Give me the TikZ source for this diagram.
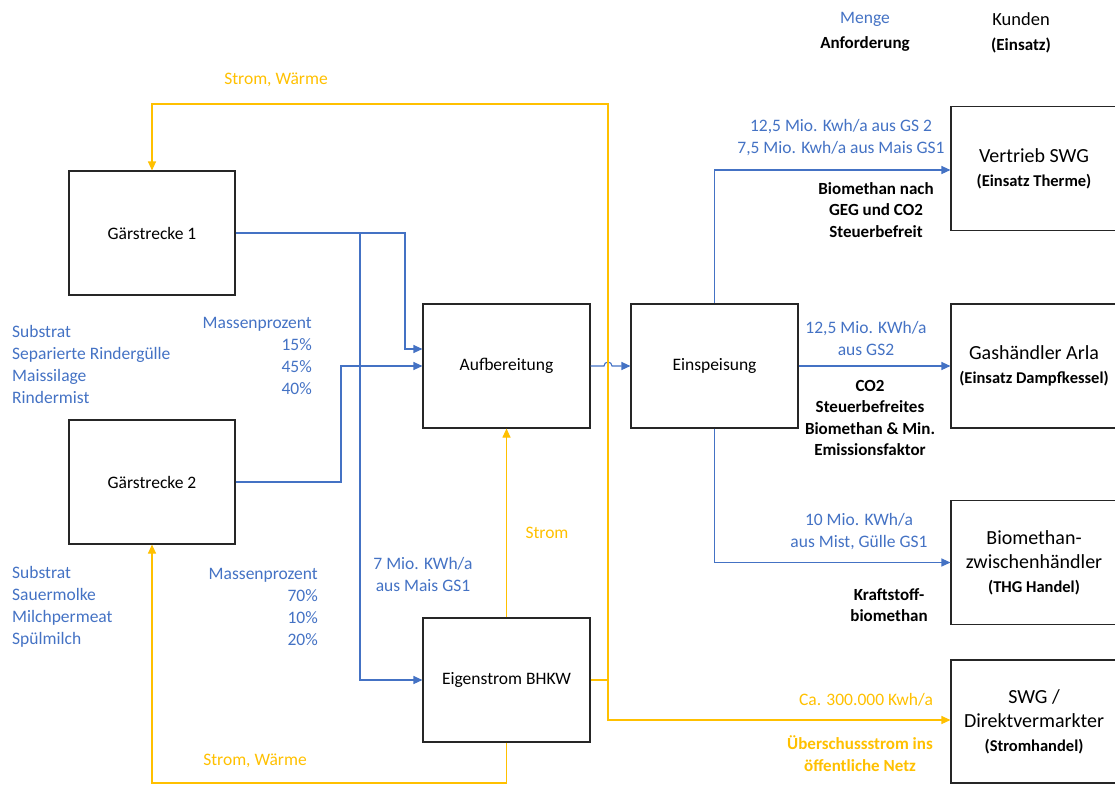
\documentclass[tikz,border=0pt]{standalone}
\usepackage{fontspec}
\setmainfont{Carlito}
\usetikzlibrary{arrows.meta, positioning, calc}
\definecolor{flowblue}{HTML}{4472C4}
\definecolor{flowgold}{HTML}{FFC000}

\begin{document}
\begin{tikzpicture}[
            x=1pt, y=-1pt,
            every node/.style={font=\fontsize{17.5}{22}\selectfont},
            box/.style={rectangle, draw=black!85, line width=1.1pt, minimum width=166pt, minimum height=124pt, align=center},
            kunde/.style={box, font=\fontsize{20}{24}\selectfont},
            note/.style={align=center, inner sep=0pt},
            bold/.style={font=\fontsize{17}{21.5}\selectfont\bfseries},
            bluearrow/.style={-{Triangle[length=9pt,width=8pt]}, draw=flowblue, line width=1.1pt},
            goldarrow/.style={-{Triangle[length=9pt,width=8pt]}, draw=flowgold, line width=1.1pt}
        ]
            \path[use as bounding box, clip] (0,0) rectangle (1115,785);

% Fermentation lines
            \node[box] (g1) at (152,233) {Gärstrecke 1};
            \node[box] (g2) at (152,482) {Gärstrecke 2};

% Processing
            \node[box, minimum width=167pt] (auf) at (506.5,366) {Aufbereitung};
            \node[box, minimum width=167pt] (ein) at (714.5,366) {Einspeisung};
            \node[box, minimum width=167pt] (bhkw) at (506.5,680) {Eigenstrom BHKW};

% Customers (cut at the right edge)
            \node[kunde] (vert) at (1034,168.5) {Vertrieb SWG\\{\fontsize{16.5}{20}\selectfont\bfseries (Einsatz Therme)}};
            \node[kunde] (gas) at (1034,366) {Gashändler Arla\\{\fontsize{16.5}{20}\selectfont\bfseries (Einsatz Dampfkessel)}};
            \node[kunde] (zwi) at (1034,562.5) {Biomethan-\\zwischenhändler\\{\fontsize{16.5}{20}\selectfont\bfseries (THG Handel)}};
            \node[kunde, minimum height=123pt] (swg) at (1034,721.5) {SWG /\\Direktvermarkter\\{\fontsize{16.5}{20}\selectfont\bfseries (Stromhandel)}};

% Header
            \node[note, text=flowblue] (menge) at (865,19) {Menge};
            \node[note, bold] (anf) at (865,44) {Anforderung};
            \node[note, font=\fontsize{18.5}{22}\selectfont] (kunden) at (1021,19) {Kunden};
            \node[note, bold] (eins) at (1021,45) {(Einsatz)};

% Substrates
            \node[note, anchor=west, align=left, text=flowblue] (sub1) at (12,364) {Substrat\\Separierte Rindergülle\\Maissilage\\Rindermist};
            \node[note, anchor=east, align=right, text=flowblue] (mp1) at (312,355.5) {Massenprozent\\15\%\\45\%\\40\%};
            \node[note, anchor=west, align=left, text=flowblue] (sub2) at (12,606.5) {Substrat\\Sauermolke\\Milchpermeat\\Spülmilch};
            \node[note, anchor=east, align=right, text=flowblue] (mp2) at (318,606.5) {Massenprozent\\70\%\\10\%\\20\%};

% Gas flows
            \coordinate (split) at (360,233);
            \draw[bluearrow] (g1.east) -| (405,349) -- ([yshift=17pt]auf.west);
            \draw[bluearrow] (split) |- (bhkw.west);
            \draw[bluearrow] (g2.east) -| (341,366) -- (auf.west);
            \draw[bluearrow] (auf.east) -- (604,366) arc (180:360:4) -- (ein.west);
            \draw[bluearrow] (ein.north) |- ([yshift=-1.5pt]vert.west);
            \draw[bluearrow] (ein.east) -- (gas.west);
            \draw[bluearrow] (ein.south) |- (zwi.west);

% Power and heat
            \draw[goldarrow] (bhkw.north) -- (auf.south);
            \draw[goldarrow] (bhkw.east) -| (608,104) -| (g1.north);
            \draw[goldarrow] (608,680) |- ([yshift=1.5pt]swg.west);
            \draw[goldarrow] (bhkw.south) |- (152,783) -- (g2.south);

% Flow labels
            \node[note, text=flowgold] (sw1) at (276,80) {Strom, Wärme};
            \node[note, text=flowgold] (sw2) at (255,761) {Strom, Wärme};
            \node[note, text=flowgold] (strom) at (547,533) {Strom};
            \node[note, text=flowblue] (mais) at (423,574) {7 Mio. KWh/a\\aus Mais GS1};
            \node[note, text=flowblue] (m1) at (841,137.5) {12,5 Mio. Kwh/a aus GS 2\\7,5 Mio. Kwh/a aus Mais GS1};
            \node[note, bold] (a1) at (876,210) {Biomethan nach\\GEG und CO2\\Steuerbefreit};
            \node[note, text=flowblue] (m2) at (866,338) {12,5 Mio. KWh/a\\aus GS2};
            \node[note, bold] (a2) at (870,418) {CO2\\Steuerbefreites\\Biomethan \& Min.\\Emissionsfaktor};
            \node[note, text=flowblue] (m3) at (859,532) {10 Mio. KWh/a\\aus Mist, Gülle GS1};
            \node[note, bold] (a3) at (889,605) {Kraftstoff-\\biomethan};
            \node[note, text=flowgold] (m4) at (866,700) {Ca. 300.000 Kwh/a};
            \node[note, text=flowgold, bold] (a4) at (860,753.5) {Überschussstrom ins\\öffentliche Netz};

        \end{tikzpicture}
\end{document}
